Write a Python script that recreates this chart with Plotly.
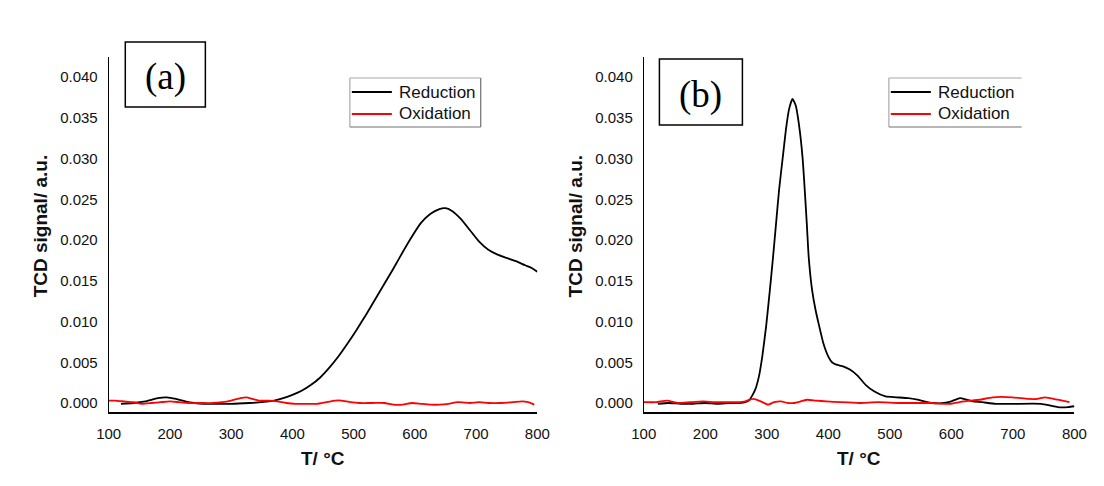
import plotly.graph_objects as go

# ---------------- data ----------------
# Panel (a)
a_red_T = [100, 110, 125, 140, 155, 170, 185, 200, 215, 230, 250, 270, 285, 300, 315, 325, 335, 345,
           360, 375, 390, 405, 420, 440, 455, 470, 480, 495, 510, 530, 550, 565, 580, 595, 610, 625,
           640, 655, 670, 690, 705, 720, 740, 760, 775, 785, 795]
a_red_v = [0.0003, 0.0003, 0.0002, 0.0001, -0.0001, 0.0000, 0.0001, 0.0002, 0.0001, 0.0000, 0.0000,
           0.0000, 0.0001, 0.0003, 0.0006, 0.0007, 0.0005, 0.0003, 0.0003, 0.0002, 0.0000, -0.0001,
           -0.0001, -0.0001, 0.0001, 0.0003, 0.0003, 0.0001, 0.0000, 0.0000, 0.0000, -0.0002, -0.0002,
           0.0000, -0.0001, -0.0002, -0.0002, -0.0001, 0.0001, 0.0000, 0.0001, 0.0000, 0.0000, 0.0001,
           0.0002, 0.0001, -0.0002]

a_black_T = [120, 140, 160, 180, 195, 210, 225, 240, 255, 270, 300, 330, 350, 370, 385, 400, 415, 430,
             445, 460, 475, 490, 505, 520, 535, 550, 565, 580, 595, 610, 625, 640, 650, 660, 675, 690,
             705, 720, 735, 750, 765, 780, 790, 800]
a_black_v = [-0.0001, 0.0000, 0.0002, 0.0006, 0.0007, 0.0005, 0.0002, 0.0000, -0.0001, -0.0001, -0.0001,
             0.0000, 0.0001, 0.0003, 0.0006, 0.0010, 0.0015, 0.0022, 0.0031, 0.0043, 0.0057, 0.0073,
             0.0090, 0.0108, 0.0127, 0.0146, 0.0165, 0.0185, 0.0204, 0.0221, 0.0232, 0.0238, 0.0239,
             0.0236, 0.0226, 0.0212, 0.0198, 0.0188, 0.0182, 0.0178, 0.0174, 0.0169, 0.0166, 0.0161]

# Panel (b)
b_black_T = [123, 140, 160, 180, 200, 220, 240, 255, 265, 272, 281, 287, 292.6, 299, 305, 310, 315, 320,
             326, 331, 336, 341.7, 347, 352, 358, 365, 368, 373.5, 379, 384, 392, 400, 406, 413, 424,
             435, 447, 461, 475, 493, 510, 530, 545, 556, 570, 588, 600, 614, 625, 635, 650, 672, 700,
             746, 760, 773, 790, 800]
b_black_v = [-0.0001, 0.0000, -0.0001, -0.0001, 0.0000, -0.0001, 0.0000, 0.0000, 0.0001, 0.0004, 0.0016,
             0.0032, 0.0057, 0.0095, 0.0139, 0.0178, 0.0220, 0.0262, 0.0302, 0.0335, 0.0360, 0.0373,
             0.0365, 0.0343, 0.0302, 0.0220, 0.0180, 0.0139, 0.0115, 0.0098, 0.0073, 0.0057, 0.0050,
             0.0047, 0.0045, 0.0041, 0.0034, 0.0022, 0.0014, 0.0008, 0.0007, 0.0006, 0.0004, 0.0002,
             0.0000, 0.0000, 0.0002, 0.0006, 0.0004, 0.0002, 0.0001, -0.0001, -0.0001, -0.0001, -0.0003,
             -0.0005, -0.0005, -0.0004]

b_red_T = [100, 120, 138, 156, 175, 196, 215, 238, 255, 265, 278, 290, 302, 312, 323, 334, 344, 355,
           366, 380, 397, 420, 450, 480, 514, 540, 567, 598, 620, 646, 667, 699, 725, 740, 752, 773, 792]
b_red_v = [0.0001, 0.0001, 0.0003, 0.0000, 0.0001, 0.0002, 0.0001, 0.0001, 0.0001, 0.0002, 0.0005,
           0.0002, -0.0002, 0.0001, 0.0002, 0.0000, 0.0000, 0.0002, 0.0004, 0.0003, 0.0002, 0.0001,
           0.0000, 0.0001, 0.0000, 0.0000, 0.0000, -0.0001, 0.0002, 0.0004, 0.0007, 0.0007, 0.0005,
           0.0005, 0.0007, 0.0004, 0.0001]

x_ticks = [100, 200, 300, 400, 500, 600, 700, 800]
y_ticks = [0.000, 0.005, 0.010, 0.015, 0.020, 0.025, 0.030, 0.035, 0.040]
y_tick_text = ["0.000", "0.005", "0.010", "0.015", "0.020", "0.025", "0.030", "0.035", "0.040"]
series_names = ["Reduction", "Oxidation"]
series_colors = ["black", "#ff0000"]
panel_labels = ["(a)", "(b)"]
x_title = "T/ °C"
y_title = "TCD signal/ a.u."

# ---------------- figure ----------------
W, H = 1104, 486
FONT = "Liberation Sans, Arial, sans-serif"
fig = go.Figure()

line_kw = dict(shape="spline", smoothing=0.5)
panels = [
    [(a_black_T, a_black_v), (a_red_T, a_red_v)],
    [(b_black_T, b_black_v), (b_red_T, b_red_v)],
]
for pi, series in enumerate(panels):
    xa = "x" if pi == 0 else "x2"
    ya = "y" if pi == 0 else "y2"
    for si, (tx, vy) in enumerate(series):
        fig.add_trace(go.Scatter(x=tx, y=vy, mode="lines", name=series_names[si],
                                 line=dict(color=series_colors[si], width=1.8, **line_kw),
                                 xaxis=xa, yaxis=ya, showlegend=False))

y_dom = [1 - 412 / H, 1 - 57 / H]
y_rng = [(403 - 412) / 8150, (403 - 57) / 8150]

def xax(domain, anchor):
    return dict(domain=domain, anchor=anchor, range=[100, 800], tickvals=x_ticks,
                ticktext=[str(v) for v in x_ticks], showgrid=False, zeroline=False,
                showline=True, linecolor="black", linewidth=2.2, ticks="",
                ticklabelstandoff=7, tickfont=dict(family=FONT, size=15, color="#111"))

def yax(anchor):
    return dict(domain=y_dom, anchor=anchor, range=y_rng, tickvals=y_ticks, ticktext=y_tick_text,
                showgrid=False, zeroline=False, showline=True, linecolor="black", linewidth=1,
                ticks="", ticklabelstandoff=7, tickfont=dict(family=FONT, size=15, color="#111"))

fig.update_layout(
    width=W, height=H, margin=dict(l=0, r=0, t=0, b=0),
    paper_bgcolor="white", plot_bgcolor="white",
    xaxis=xax([98 / W, 537 / W], "y"),
    yaxis=yax("x"),
    xaxis2=xax([646 / W, 1087 / W], "y2"),
    yaxis2=yax("x2"),
    showlegend=False,
)

def px(x):
    return x / W

def py(y):
    return 1 - y / H

# axis titles
for cx in [28, 576]:
    fig.add_annotation(text=f"<b>{y_title}</b>", x=px(cx), y=py(226), xref="paper", yref="paper",
                       showarrow=False, textangle=-90, font=dict(family=FONT, size=19, color="#111"),
                       xanchor="center", yanchor="middle")
for cx in [317, 866]:
    fig.add_annotation(text=f"<b>{x_title}</b>", x=px(cx), y=py(458), xref="paper", yref="paper",
                       showarrow=False, font=dict(family=FONT, size=19, color="#111"),
                       xanchor="center", yanchor="middle")

# panel label boxes
boxes = [(115, 42, 197, 107), (662, 59, 747, 125)]
for (x0, y0, x1, y1), lab in zip(boxes, panel_labels):
    fig.add_shape(type="rect", xref="paper", yref="paper", x0=px(x0), x1=px(x1),
                  y0=py(y1), y1=py(y0), line=dict(color="black", width=1.5),
                  fillcolor="white", layer="above")
    fig.add_annotation(text=lab, x=px((x0 + x1) / 2), y=py((y0 + y1) / 2 + 3),
                       xref="paper", yref="paper", showarrow=False,
                       font=dict(family="Liberation Serif, Times New Roman, serif", size=37, color="black"),
                       xanchor="center", yanchor="middle")

# legend boxes (one per panel)
legends = [(345, 78, 479, 127, True), (897, 78, 1033, 127, False)]
for (x0, y0, x1, y1, right_border) in legends:
    fig.add_shape(type="rect", xref="paper", yref="paper", x0=px(x0), x1=px(x1),
                  y0=py(y1), y1=py(y0), line=dict(width=0), fillcolor="white", layer="above")
    segs = [((x0, y0), (x1, y0), "#a8a8a8"), ((x0, y0), (x0, y1), "#a8a8a8"),
            ((x0, y1), (x1, y1), "#707070")]
    if right_border:
        segs.append(((x1, y0), (x1, y1), "#707070"))
    for (sx0, sy0), (sx1, sy1), col in segs:
        fig.add_shape(type="line", xref="paper", yref="paper", x0=px(sx0), y0=py(sy0),
                      x1=px(sx1), y1=py(sy1), line=dict(color=col, width=1.2), layer="above")
    for si, name in enumerate(series_names):
        ry = 92 + 22 * si
        fig.add_shape(type="line", xref="paper", yref="paper", x0=px(x0 + 2), x1=px(x0 + 43),
                      y0=py(ry), y1=py(ry), line=dict(color=series_colors[si], width=2), layer="above")
        fig.add_annotation(text=name, x=px(x0 + 48), y=py(ry), xref="paper", yref="paper",
                           showarrow=False, xanchor="left", yanchor="middle",
                           font=dict(family=FONT, size=17, color="#111"))

fig.write_html("out.html")
